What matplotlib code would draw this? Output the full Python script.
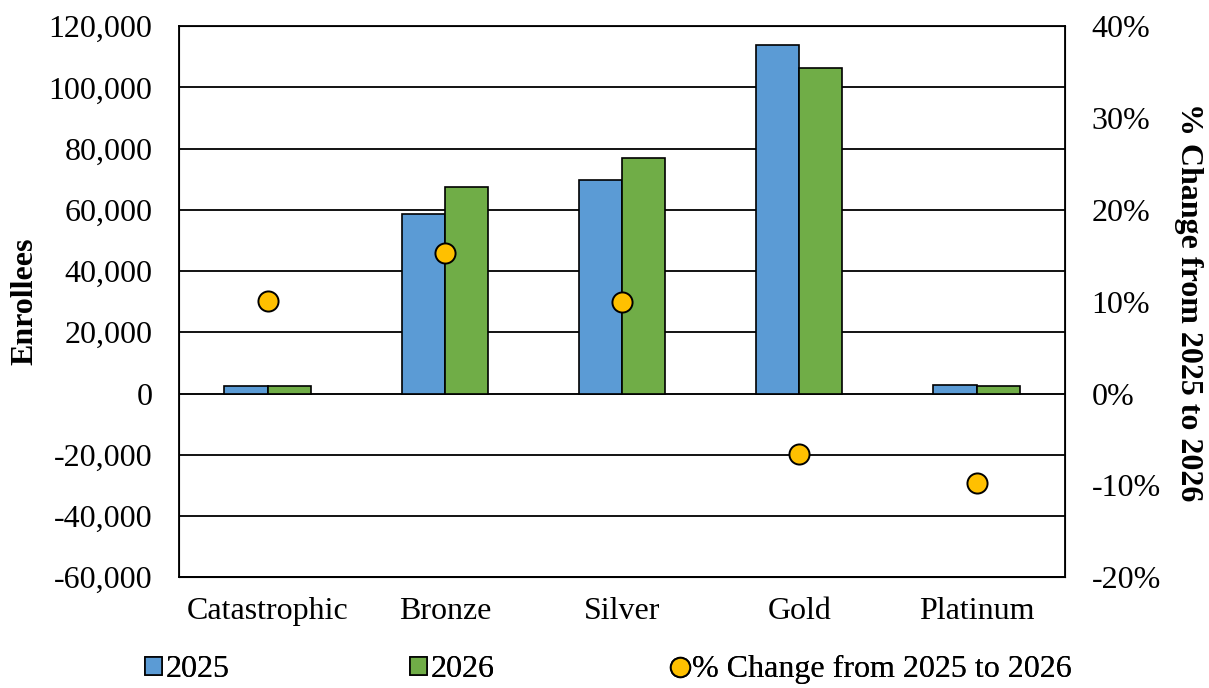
import matplotlib.pyplot as plt
import numpy as np
from matplotlib.lines import Line2D
from matplotlib.patches import Patch

plt.rcParams['font.family'] = ['Liberation Serif', 'DejaVu Serif']

tiers = ['Catastrophic', 'Bronze', 'Silver', 'Gold', 'Platinum']
enroll_2025 = [2300, 58800, 69600, 113700, 2900]
enroll_2026 = [2550, 67600, 76800, 106200, 2600]
pct_change = [10.1, 15.3, 10.0, -6.6, -9.7]

blue = '#5B9BD5'
green = '#70AD47'
gold = '#FFC000'
fs = 23

fig = plt.figure(figsize=(12.09, 6.88), dpi=100)
ax = fig.add_axes([0.148, 0.161, 0.733, 0.801])

x = np.arange(len(tiers))
w = 0.243
ax.bar(x - w / 2, enroll_2025, w, color=blue, edgecolor='black', linewidth=1.2, zorder=3)
ax.bar(x + w / 2, enroll_2026, w, color=green, edgecolor='black', linewidth=1.2, zorder=3)

ax.set_ylim(-60000, 120000)
ax.set_yticks(np.arange(-60000, 120001, 20000))
ax.set_yticklabels([f'{v:,}' for v in range(-60000, 120001, 20000)])
ax.set_xlim(-0.5, len(tiers) - 0.5)
ax.set_xticks(x)
ax.set_xticklabels(tiers)
ax.grid(axis='y', color='black', linewidth=1.3, zorder=0)
ax.axhline(0, color='#808080', linewidth=1.3, zorder=1)
ax.tick_params(length=0, labelsize=fs, pad=19)
ax.tick_params(axis='x', pad=14)
for s in ax.spines.values():
    s.set_linewidth(1.3)
ax.set_ylabel('Enrollees', fontsize=fs, fontweight='bold', labelpad=7)

ax2 = ax.twinx()
ax2.scatter(x, pct_change, s=210, color=gold, edgecolor='black', linewidth=1.4, zorder=5)
ax2.set_ylim(-20, 40)
ax2.set_yticks(np.arange(-20, 41, 10))
ax2.set_yticklabels([f'{v}%' for v in range(-20, 41, 10)])
ax2.tick_params(length=0, labelsize=fs, pad=19)
ax2.set_ylabel('% Change from 2025 to 2026', fontsize=fs, fontweight='bold',
               rotation=270, labelpad=30)

# one legend per entry so each can sit where it should along the bottom
entries = [
    (Patch(facecolor=blue, edgecolor='black', linewidth=1.2), '2025', 0.1094),
    (Patch(facecolor=green, edgecolor='black', linewidth=1.2), '2026', 0.3285),
    (Line2D([], [], marker='o', linestyle='none', markersize=14,
            markerfacecolor=gold, markeredgecolor='black', markeredgewidth=1.4),
     '% Change from 2025 to 2026', 0.5448),
]
for handle, label, xpos in entries:
    leg = fig.legend([handle], [label], loc='lower left', bbox_to_anchor=(xpos, -0.013),
                     frameon=False, fontsize=fs, handlelength=0.53, handleheight=0.5,
                     handletextpad=0.12, borderaxespad=0)
    fig.add_artist(leg)

fig.savefig('out.png', dpi=100)
